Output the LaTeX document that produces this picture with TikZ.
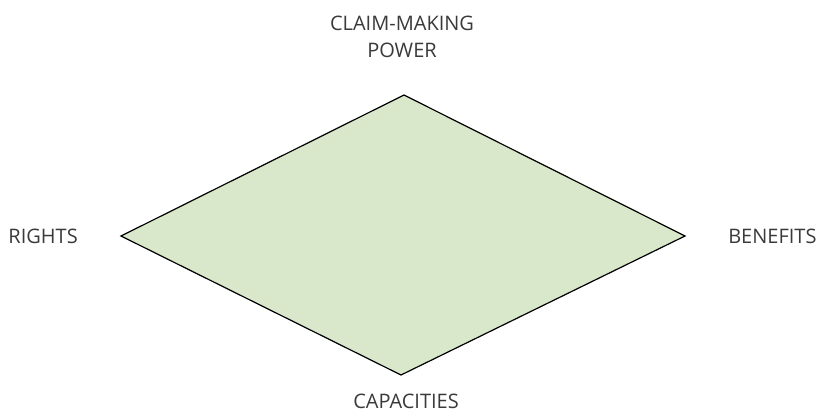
\documentclass[tikz,border=0pt]{standalone}
\usepackage{fontspec}
\setmainfont{Open Sans}
\usepackage{xcolor}
\usepackage{tikz}
\usetikzlibrary{positioning}
\definecolor{RhomFill}{HTML}{D9E7CB}
\definecolor{RhomText}{HTML}{3A3A3A}
\tikzset{
  corner/.style={font=\fontsize{15}{18}\selectfont,text=RhomText,align=center,inner sep=0pt},
  rhombus/.style={draw=black,fill=RhomFill,line width=0.9pt,line join=miter}
}
\begin{document}
\begin{tikzpicture}[x=0.75pt,y=-0.75pt]
  \useasboundingbox (0,0) rectangle (817,412);
  \coordinate (top) at (404,95);
  \coordinate (right) at (685,236);
  \coordinate (bottom) at (401,375);
  \coordinate (left) at (121,236);
  \draw[rhombus] (top)--(right)--(bottom)--(left)--cycle;
  \node[corner] (claim) at (402,37) {CLAIM-MAKING\\[2pt]POWER};
  \node[corner,anchor=east] (rights) at (78,236) {RIGHTS};
  \node[corner,anchor=west] (benefits) at (728,236) {BENEFITS};
  \node[corner] (capac) at (406,401) {CAPACITIES};
\end{tikzpicture}
\end{document}
